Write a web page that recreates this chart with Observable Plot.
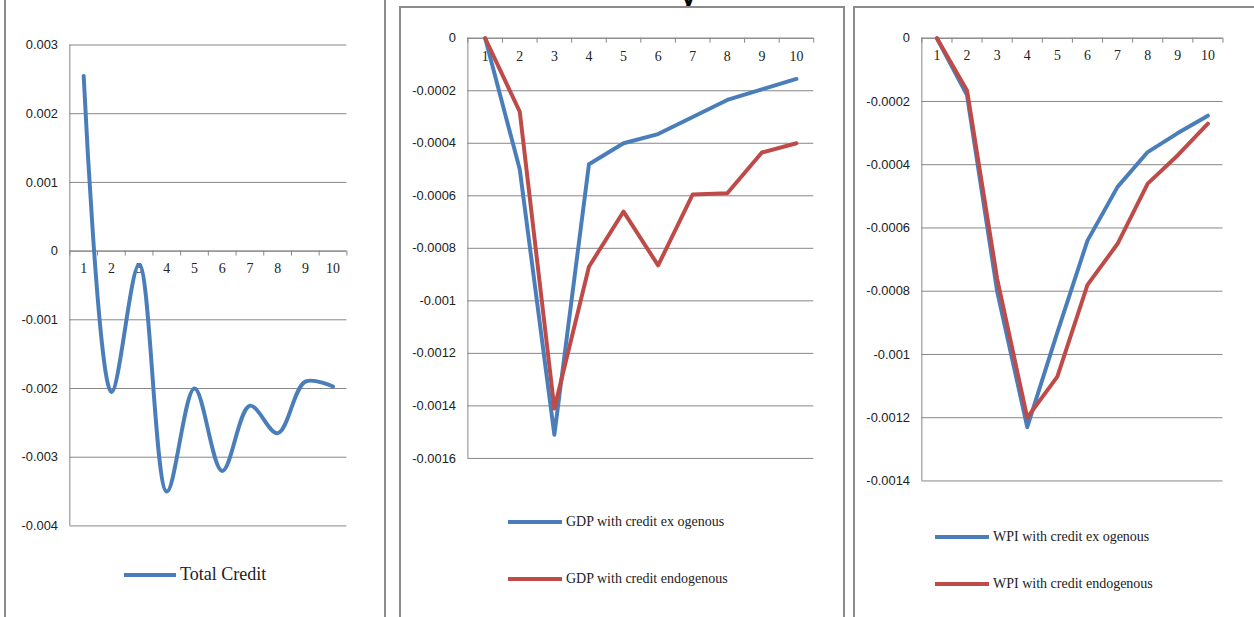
<!DOCTYPE html>
<html><head><meta charset="utf-8">
<script src="https://cdn.jsdelivr.net/npm/d3@7"></script>
<script src="https://cdn.jsdelivr.net/npm/@observablehq/plot@0.6"></script>
<style>
body{margin:0;width:1254px;height:617px;overflow:hidden;background:#fff;position:relative;font-family:"Liberation Serif",serif}
.box{position:absolute;border:2px solid #8c8c8c;box-sizing:border-box;background:#fff}
.p{position:absolute;left:0;top:0}
.lg{position:absolute;font-size:14px;color:#222;display:flex;align-items:center}
.lg span{display:inline-block;width:44px;height:4px;margin-right:4px}
</style></head><body>
<div style="position:absolute;left:680px;top:-22px;font:bold 30px 'Liberation Sans',sans-serif">y</div>
<div class="box" style="left:4px;top:-4px;width:382px;height:640px" id="b1"></div>
<div class="box" style="left:399px;top:6px;width:446px;height:630px" id="b2"></div>
<div class="box" style="left:853px;top:6px;width:420px;height:630px" id="b3"></div>
<script>
const periods = [1,2,3,4,5,6,7,8,9,10]
const totalCredit = [0.00255,-0.00205,-0.0002,-0.0035,-0.002,-0.0032,-0.00225,-0.00265,-0.0019,-0.00197]
const gdpExo = [0,-0.0005,-0.00151,-0.00048,-0.0004,-0.000365,-0.0003,-0.000235,-0.000195,-0.000155]
const gdpEndo = [0,-0.00028,-0.00141,-0.00087,-0.00066,-0.000865,-0.000595,-0.00059,-0.000435,-0.0004]
const wpiExo = [0,-0.00018,-0.0008,-0.00123,-0.00093,-0.00064,-0.00047,-0.00036,-0.0003,-0.000245]
const wpiEndo = [0,-0.000165,-0.00076,-0.0012,-0.00107,-0.00078,-0.00065,-0.00046,-0.00037,-0.00027]
const blue = '#4a7ebb', red = '#be4b48'

function panel(el, o) {
  const [y0, y1] = o.domain
  const plotH = o.height - o.mt - o.mb
  const tickLen = (y1 - y0) * 5 / plotH
  const bounds = d3.range(0.5, 11, 1)
  const fmt = d => d === 0 ? '0' : String(+d.toFixed(5))
  const series = o.series.flatMap(s => periods.map((p, i) => ({x: p, y: s.values[i], k: s.name})))
  const chart = Plot.plot({
    width: o.width, height: o.height,
    marginLeft: o.ml, marginTop: o.mt, marginBottom: o.mb, marginRight: o.mr,
    x: {domain: [0.5, 10.5], axis: null},
    y: {domain: [y0, y1], axis: null},
    style: {fontFamily: 'Liberation Sans, sans-serif', fontSize: '13px', color: '#222'},
    marks: [
      Plot.gridY(o.ticks, {stroke: '#868686', strokeOpacity: 1}),
      Plot.axisY(o.ticks, {tickSize: 0, tickPadding: 12, tickFormat: fmt, fontSize: 13, label: null}),
      Plot.ruleX([0.5], {stroke: '#868686'}),
      Plot.ruleY([0], {stroke: '#868686'}),
      Plot.ruleX(bounds, {x: d => d, y1: 0, y2: -tickLen, stroke: '#868686'}),
      Plot.text(periods, {x: d => d, y: 0, dy: 18, text: d => String(d), fontFamily: 'Liberation Serif, serif', fontSize: 14}),
      Plot.line(series, {x: 'x', y: 'y', z: 'k', stroke: d => o.series.find(s => s.name === d.k).color, strokeWidth: 4, curve: o.curve})
    ]
  })
  chart.classList.add('p')
  el.appendChild(chart)
}

panel(document.getElementById('b1'), {width: 382, height: 640, ml: 64, mr: 38, mt: 47, mb: 107,
  domain: [-0.004, 0.003], ticks: [-0.004,-0.003,-0.002,-0.001,0,0.001,0.002,0.003], curve: 'catmull-rom',
  series: [{name: 'Total Credit', values: totalCredit, color: blue}]})
panel(document.getElementById('b2'), {width: 446, height: 630, ml: 67, mr: 30, mt: 30, mb: 176,
  domain: [-0.0016, 0], ticks: d3.range(0, 9).map(i => -i * 0.0002), curve: 'linear',
  series: [{name: 'exo', values: gdpExo, color: blue}, {name: 'endo', values: gdpEndo, color: red}]})
panel(document.getElementById('b3'), {width: 420, height: 630, ml: 67, mr: 49, mt: 30, mb: 153,
  domain: [-0.0014, 0], ticks: d3.range(0, 8).map(i => -i * 0.0002), curve: 'linear',
  series: [{name: 'exo', values: wpiExo, color: blue}, {name: 'endo', values: wpiEndo, color: red}]})

function legend(left, top, color, text, size) {
  const d = document.createElement('div')
  d.className = 'lg'
  d.style.left = left + 'px'; d.style.top = top + 'px'; d.style.fontSize = size + 'px'
  d.innerHTML = `<span style="background:${color};width:${size > 15 ? 52 : 54}px"></span>${text}`
  document.body.appendChild(d)
}
legend(124, 564, blue, 'Total Credit', 18)
legend(508, 514, blue, 'GDP with credit ex ogenous', 14)
legend(508, 571, red, 'GDP with credit endogenous', 14)
legend(935, 529, blue, 'WPI with credit ex ogenous', 14)
legend(935, 576, red, 'WPI with credit endogenous', 14)
</script>
</body></html>
